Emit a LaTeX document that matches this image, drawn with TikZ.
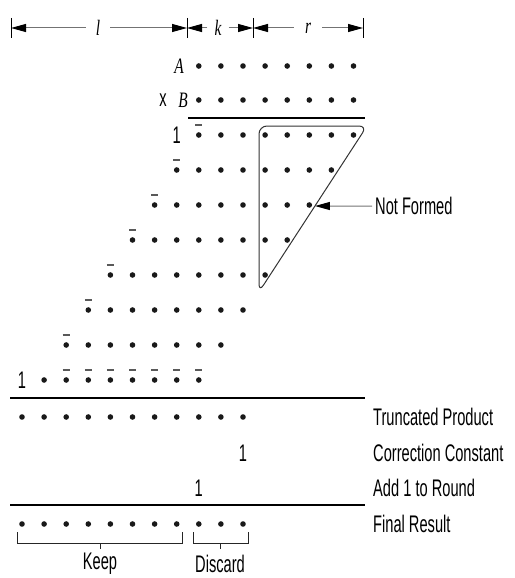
\documentclass[tikz,border=0pt]{standalone}
\usepackage{fontspec}
\setmainfont{Liberation Sans}[FakeStretch=0.61]
\newfontfamily\varfont{Liberation Serif}[FakeStretch=0.7]
\usetikzlibrary{arrows.meta,calc}
\begin{document}
\begin{tikzpicture}[x=1pt,y=-1pt,
  bit/.style={circle,fill=black!90,inner sep=0pt,minimum size=5.6pt},
  txt/.style={inner sep=0pt,font=\fontsize{24}{26}\selectfont},
  lbl/.style={txt,anchor=west},
  var/.style={inner ysep=0pt,font=\fontsize{22}{24}\selectfont\varfont\itshape},
  rule/.style={line width=1.4pt},
  ovbar/.style={draw=black!65,line width=1.5pt},
  tickmark/.style={line width=1pt},
  dim/.style={draw=black!55,line width=1pt,-{Triangle[length=15pt,width=8pt,color=black]}},
  brace/.style={line width=1pt,draw=black!85},
  region/.style={draw=black!80,line width=1pt,rounded corners=8pt}]
\useasboundingbox (0,0) rectangle (514,578);

% column pitch of the bit grid
\def\px{22.1}

% ---- operand widths l, k, r ----
\coordinate (t0) at (11,28);
\coordinate (t1) at (187,28);
\coordinate (t2) at (253,28);
\coordinate (t3) at (363,28);
\foreach \t in {t0,t1,t2,t3}
  \draw[tickmark] ($(\t)+(0,-10)$) -- ($(\t)+(0,10)$);
\node[var,inner xsep=10pt] (dl) at (98,28) {l};
\node[var,inner xsep=7pt] (dk) at (218,28) {k};
\node[var,inner xsep=11pt] (dr) at (308,28) {r};
\draw[dim] (dl) -- (t0);
\draw[dim] (dl) -- (t1);
\draw[dim] (dk) -- (t1);
\draw[dim] (dk) -- (t2);
\draw[dim] (dr) -- (t2);
\draw[dim] (dr) -- (t3);

% ---- operands ----
\node[var,inner sep=0pt] (opA) at (179,66) {A};
\node[var,inner sep=0pt] (opB) at (183,100) {B};
\node[txt] (times) at (163,100) {x};
\foreach \j in {8,...,15} {
  \node[bit] (a\j) at ({22+\px*\j},66) {};
  \node[bit] (b\j) at ({22+\px*\j},100) {};
}
\coordinate (r1l) at (188,118);
\coordinate (r1r) at (365,118);
\draw[rule] (r1l) -- (r1r);

% ---- partial products (first bit inverted) ----
\node[txt] (one1) at ({22+\px*7},135) {1};
\foreach \r/\y/\f/\l in {1/135/8/15,2/170/7/14,3/205/6/13,4/240/5/12,
                         5/275/4/11,6/310/3/10,7/345/2/9} {
  \foreach \j in {\f,...,\l}
    \node[bit] (p\r c\j) at ({22+\px*\j},\y) {};
  \draw[ovbar] ($(p\r c\f)+(-3.5,-10)$) -- ++(7,0);
}
\node[txt] (one8) at (22,380) {1};
\node[bit] (p8c1) at ({22+\px},380) {};
\foreach \j in {2,...,8} {
  \node[bit] (p8c\j) at ({22+\px*\j},380) {};
  \draw[ovbar] ($(p8c\j)+(-3.5,-10)$) -- ++(7,0);
}

% ---- bits that are not formed ----
\coordinate (tl) at (259,126);
\coordinate (tr) at (367,126);
\coordinate (bt) at (259,292);
\draw[region] (tl) -- (tr) -- (bt) -- cycle;
\coordinate (hyp) at ($(tr)!0.482!(bt)$);
\node[lbl,inner xsep=3pt] (nf) at (372,206) {Not Formed};
\draw[dim] (nf.west) -- (hyp);

% ---- sum ----
\coordinate (r2l) at (10,398);
\coordinate (r2r) at (365,398);
\draw[rule] (r2l) -- (r2r);
\foreach \j in {0,...,10}
  \node[bit] (tp\j) at ({22+\px*\j},417) {};
\node[txt] (cc) at ({22+\px*10},453) {1};
\node[txt] (rd) at ({22+\px*8},488) {1};
\coordinate (r3l) at (10,505);
\coordinate (r3r) at (365,505);
\draw[rule] (r3l) -- (r3r);
\foreach \j in {0,...,10}
  \node[bit] (fr\j) at ({22+\px*\j},524) {};

\node[lbl] (ltp) at (373,417) {Truncated Product};
\node[lbl] (lcc) at (373,453) {Correction Constant};
\node[lbl] (lrd) at (373,488) {Add 1 to Round};
\node[lbl] (lfr) at (373,524) {Final Result};

% ---- keep / discard brackets ----
\draw[brace] (17,532) -- (17,543) -- (182,543) -- (182,532);
\draw[brace] (100,543) -- (100,549);
\draw[brace] (193,532) -- (193,543) -- (248,543) -- (248,532);
\draw[brace] (220,543) -- (220,549);
\node[txt] (keep) at (100,564) {Keep};
\node[txt] (disc) at (220,564) {Discard};
\end{tikzpicture}
\end{document}
